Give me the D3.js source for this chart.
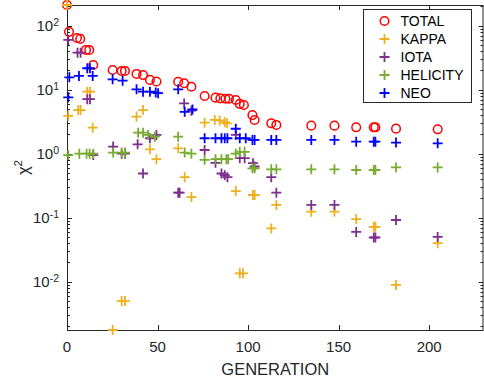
<!DOCTYPE html>
<html>
<head>
<meta charset="utf-8">
<script src="https://cdn.jsdelivr.net/npm/d3@7"></script>
<style>
  html, body { margin: 0; padding: 0; background: #fff; }
  svg { display: block; font-family: 'Liberation Sans', Arial, sans-serif; }
</style>
</head>
<body>
<div id="chart"></div>
<script>
// chi^2 per generation
const totalGen = [0, 1.1, 5.5, 7.3, 10.5, 12.3, 14.5, 25.2, 30.2, 32, 38.4, 42, 45.8, 49.4, 61.4, 64.7, 68.7, 76, 82, 84.7, 87.5, 89.5, 93.2, 95.4, 97.7, 102.4, 103.6, 112.8, 115.6, 134.9, 147.7, 159.7, 169.4, 170.3, 181.7, 204.7];
const totalChi = [210, 80, 64, 62, 41.7, 41.7, 24.3, 20.3, 19.6, 19.6, 17.6, 16.9, 14.2, 13.4, 13.3, 12.6, 11.1, 7.95, 7.5, 7.3, 7.2, 7.2, 6.9, 6.0, 5.76, 4.0, 3.36, 2.98, 2.81, 2.74, 2.74, 2.58, 2.58, 2.58, 2.46, 2.4];

const kappaGen = [0, 0.7, 6.2, 7.5, 11.2, 12.7, 14.2, 25.2, 30.2, 32, 38.4, 42, 45.8, 49.4, 61.4, 65, 68.7, 76, 81.6, 84.3, 87.1, 88.4, 93.2, 95.4, 97.2, 102.7, 103.6, 112.8, 115.6, 134.9, 147.7, 159.7, 169.4, 170.3, 181.7, 204.7];
const kappaChi = [210, 3.9, 4.8, 4.8, 9.3, 9.3, 2.55, 0.00176, 0.005, 0.005, 3.8, 4.8, 1.17, 0.82, 1.21, 0.43, 0.21, 3.05, 3.36, 3.3, 3.1, 2.98, 0.26, 0.0135, 0.0135, 0.226, 0.226, 0.068, 0.158, 0.124, 0.124, 0.095, 0.072, 0.072, 0.0089, 0.04];

const iotaGen = [0.7, 5.8, 7.5, 11.2, 12.7, 14.5, 25.5, 30.2, 32, 39, 42, 45.8, 49.4, 61.4, 62.2, 64.7, 68.7, 76, 82, 85.3, 87.1, 88.6, 93.2, 95.4, 98.1, 102.7, 103.6, 112.8, 115.6, 134.9, 147.7, 159.7, 169.4, 170.3, 181.7, 204.7];
const iotaChi = [59.8, 37.8, 37.8, 7.1, 7.1, 0.95, 1.29, 1.0, 1.0, 1.4, 0.49, 1.74, 1.96, 0.246, 0.246, 6.1, 4.7, 1.14, 0.72, 0.49, 0.46, 0.43, 1.96, 0.85, 0.85, 0.71, 0.63, 0.43, 0.246, 0.158, 0.158, 0.06, 0.049, 0.049, 0.092, 0.05];

const helicityGen = [0.7, 6.8, 10.8, 12.5, 14.5, 25.5, 30.2, 32, 39.3, 42, 44.8, 48.5, 61.4, 65, 68.7, 76, 82, 85.3, 88, 89, 93.2, 95.4, 98.1, 102.4, 103.6, 112.8, 115.6, 134.9, 147.7, 159.7, 169.4, 170.3, 181.7, 204.7];
const helicityChi = [0.95, 1.0, 1.0, 1.0, 1.0, 1.04, 1.04, 1.04, 2.13, 2.13, 1.96, 1.84, 1.84, 1.04, 1.0, 0.8, 0.82, 0.82, 0.82, 0.82, 1.0, 1.07, 1.07, 0.59, 0.59, 0.57, 0.57, 0.57, 0.57, 0.556, 0.556, 0.556, 0.61, 0.61];

const neoGen = [0.7, 1.3, 6.6, 11.2, 12.7, 14.2, 25.2, 30.7, 38.4, 42, 45.8, 49, 50.3, 61.4, 65, 69.3, 76, 82, 85.3, 87.1, 88.6, 93.2, 95.4, 98.7, 102.4, 103.6, 112.8, 115.6, 134.9, 147.7, 159.7, 169.4, 170.3, 181.7, 204.7];
const neoChi = [7.6, 15.6, 16.4, 21.6, 21.6, 16.4, 14.5, 13.8, 10.1, 9.3, 9.3, 9.0, 8.8, 10.1, 4.5, 4.9, 1.74, 1.74, 1.74, 1.74, 1.74, 2.45, 1.74, 1.74, 1.64, 1.64, 1.64, 1.64, 1.64, 1.64, 1.54, 1.54, 1.54, 1.49, 1.45];

const seriesNames = ['TOTAL', 'KAPPA', 'IOTA', 'HELICITY', 'NEO'];
const seriesColors = ['#ff0000', '#edb120', '#7e2f8e', '#77ac30', '#0000ff'];
const xTicks = [0, 50, 100, 150, 200];
const yDecades = [-2, -1, 0, 1, 2];

const series = [
  { name: seriesNames[0], gen: totalGen, chi: totalChi, marker: 'o' },
  { name: seriesNames[1], gen: kappaGen, chi: kappaChi, marker: '+' },
  { name: seriesNames[2], gen: iotaGen, chi: iotaChi, marker: '+' },
  { name: seriesNames[3], gen: helicityGen, chi: helicityChi, marker: '+' },
  { name: seriesNames[4], gen: neoGen, chi: neoChi, marker: '+' },
];
series.forEach((s, i) => s.color = seriesColors[i]);

const W = 484, H = 389;
const margin = { top: 5, right: 0.5, bottom: 59, left: 67 };
const axisColor = '#262626';

const svg = d3.select('#chart').append('svg')
  .attr('width', W)
  .attr('height', H);

const x = d3.scaleLinear().domain([0, 230]).range([margin.left, W - margin.right]);
const allChi = series.flatMap(s => s.chi);
const y = d3.scaleLog().domain(d3.extent(allChi)).range([H - margin.bottom, margin.top]);

const x0 = x.range()[0], x1 = x.range()[1];
const y0 = y.range()[0], y1 = y.range()[1];

// ticks (inside, both sides like matlab box on)
const ticks = svg.append('g').attr('stroke', axisColor).attr('stroke-width', 1);
xTicks.forEach(t => {
  const px = Math.round(x(t)) + 0.5;
  ticks.append('line').attr('x1', px).attr('x2', px).attr('y1', y0).attr('y2', y0 - 5);
  ticks.append('line').attr('x1', px).attr('x2', px).attr('y1', y1).attr('y2', y1 + 5);
});
const [ylo, yhi] = y.domain();
for (let e = Math.floor(Math.log10(ylo)); e <= Math.ceil(Math.log10(yhi)); e++) {
  for (let m = 1; m <= 9; m++) {
    const v = m * Math.pow(10, e);
    if (v < ylo || v > yhi) continue;
    const py = Math.round(y(v)) + 0.5;
    const len = m === 1 ? 5 : 3;
    ticks.append('line').attr('x1', x0).attr('x2', x0 + len).attr('y1', py).attr('y2', py);
    ticks.append('line').attr('x1', x1).attr('x2', x1 - len).attr('y1', py).attr('y2', py);
  }
}

// box
svg.append('rect')
  .attr('x', x0 + 0.5).attr('y', y1 + 0.5)
  .attr('width', x1 - x0 - 1).attr('height', y0 - y1)
  .attr('fill', 'none').attr('stroke', axisColor).attr('stroke-width', 1);

// tick labels
svg.append('g').selectAll('text').data(xTicks).enter().append('text')
  .attr('x', d => x(d)).attr('y', y0 + 22)
  .attr('text-anchor', 'middle')
  .attr('font-size', 15).attr('fill', axisColor)
  .text(d => d);

const yl = svg.append('g').selectAll('text').data(yDecades).enter().append('text')
  .attr('x', x0 - 8).attr('y', d => y(Math.pow(10, d)) + 5.5)
  .attr('text-anchor', 'end')
  .attr('font-size', 15).attr('fill', axisColor);
yl.append('tspan').text('10');
yl.append('tspan').attr('font-size', 10.5).attr('dy', -5).text(d => d);

// axis labels
svg.append('text')
  .attr('x', (x0 + x1) / 2).attr('y', H - 14)
  .attr('text-anchor', 'middle')
  .attr('font-size', 16.5).attr('fill', axisColor)
  .text('GENERATION');

const ylab = svg.append('text')
  .attr('transform', `translate(29,${(y0 + y1) / 2}) rotate(-90)`)
  .attr('text-anchor', 'middle')
  .attr('font-size', 16.5).attr('fill', axisColor);
ylab.append('tspan').text('χ');
ylab.append('tspan').attr('font-size', 11.5).attr('dy', -7).text('2');

// markers
const plusPath = r => `M${-r},0H${r}M0,${-r}V${r}`;
const plot = svg.append('g');
series.forEach(s => {
  const pts = s.gen.map((g, i) => [g, s.chi[i]]);
  const sel = plot.append('g').selectAll('.m').data(pts).enter();
  if (s.marker === 'o') {
    sel.append('circle')
      .attr('cx', d => x(d[0])).attr('cy', d => y(d[1]))
      .attr('r', 4.3)
      .attr('fill', 'none').attr('stroke', s.color).attr('stroke-width', 1.5);
  } else {
    sel.append('path')
      .attr('transform', d => `translate(${x(d[0])},${y(d[1])})`)
      .attr('d', plusPath(5))
      .attr('fill', 'none').attr('stroke', s.color).attr('stroke-width', 1.8);
  }
});

// legend
const lg = svg.append('g').attr('transform', 'translate(363.5,9.5)');
lg.append('rect').attr('width', 108).attr('height', 93)
  .attr('fill', '#fff').attr('stroke', axisColor).attr('stroke-width', 1);
series.forEach((s, i) => {
  const row = lg.append('g').attr('transform', `translate(0,${11.5 + i * 18})`);
  if (s.marker === 'o') {
    row.append('circle').attr('cx', 21).attr('cy', 0).attr('r', 4.3)
      .attr('fill', 'none').attr('stroke', s.color).attr('stroke-width', 1.5);
  } else {
    row.append('path').attr('transform', 'translate(21,0)').attr('d', plusPath(5))
      .attr('fill', 'none').attr('stroke', s.color).attr('stroke-width', 1.8);
  }
  row.append('text').attr('x', 37).attr('y', 5)
    .attr('font-size', 14).attr('fill', '#000')
    .text(s.name);
});
</script>
</body>
</html>
